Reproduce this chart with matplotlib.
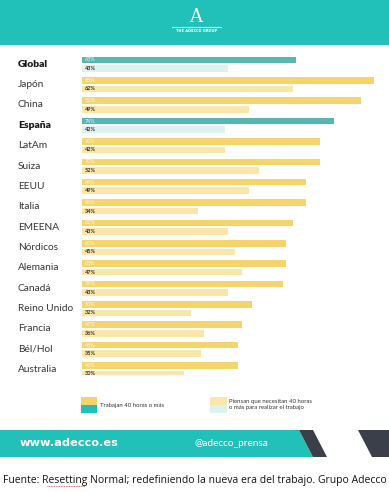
import matplotlib
matplotlib.use("Agg")
import matplotlib.pyplot as plt
from matplotlib.patches import Polygon, Rectangle

countries = ["Global", "Japón", "China", "España", "LatAm", "Suiza", "EEUU", "Italia",
             "EMEENA", "Nórdicos", "Alemania", "Canadá", "Reino Unido", "Francia",
             "Bél/Hol", "Australia"]
trabajan = [63, 86, 82, 74, 70, 70, 66, 66, 62, 60, 60, 59, 50, 47, 46, 46]
piensan = [43, 62, 49, 42, 42, 52, 49, 34, 43, 45, 47, 43, 32, 36, 35, 30]
highlight = ["Global", "España"]
legend_labels = ["Trabajan 40 horas o más", "Piensan que necesitan 40 horas\no más para realizar el trabajo"]

TEAL = "#21c1ba"
TEAL_BAR = "#55b8b0"
TEAL_LIGHT = "#ddf1ef"
YEL = "#f6d46c"
YEL_LIGHT = "#fbe6a9"
DARK = "#3a3f4a"

W, H = 389, 492
fig = plt.figure(figsize=(W / 100, H / 100), dpi=100)
fig.patch.set_facecolor("white")

# overlay axes in pixel coordinates for decorations
deco = fig.add_axes([0, 0, 1, 1])
deco.set_xlim(0, W)
deco.set_ylim(H, 0)
deco.axis("off")

# header
deco.add_patch(Rectangle((0, 0), W, 45, color=TEAL, lw=0))
deco.text(196, 17, "A", color="white", fontsize=13, ha="center", va="center",
          family="DejaVu Serif")
deco.plot([172, 221], [26.5, 26.5], color="white", lw=0.8)
deco.text(196.5, 31, "THE ADECCO GROUP", color="white", fontsize=2.6, ha="center",
          va="center", fontweight="bold")

# footer band
deco.add_patch(Polygon([(0, 430), (299, 430), (313, 457), (0, 457)], closed=True, color=TEAL, lw=0))
deco.add_patch(Polygon([(299, 430), (313, 430), (327, 457), (313, 457)], closed=True, color=DARK, lw=0))
deco.add_patch(Polygon([(358, 430), (389, 430), (389, 457), (372, 457)], closed=True, color=DARK, lw=0))
deco.text(20, 443.5, "www.adecco.es", color="white", fontsize=8.2, fontweight="bold",
          ha="left", va="center", family="DejaVu Sans")
deco.text(195, 443.5, "@adecco_prensa", color="white", fontsize=7.2, ha="left",
          va="center", family="Lato")

# legend
deco.add_patch(Rectangle((81, 397), 16, 8, color=YEL, lw=0))
deco.add_patch(Rectangle((81, 405), 16, 8, color=TEAL, lw=0))
deco.text(100, 405, legend_labels[0], fontsize=4.3, ha="left", va="center", color="#333333",
          family="Lato")
deco.add_patch(Rectangle((210, 397), 17, 8, color=YEL_LIGHT, lw=0))
deco.add_patch(Rectangle((210, 405), 17, 8, color=TEAL_LIGHT, lw=0))
deco.text(229, 404.5, legend_labels[1], fontsize=4.3, ha="left", va="center", color="#333333",
          family="Lato", linespacing=1.1)

# caption
deco.text(3, 480, "Fuente: Resetting Normal; redefiniendo la nueva era del trabajo. Grupo Adecco",
          fontsize=7.5, ha="left", va="center", color="#111111", family="Open Sans")
deco.plot([47, 85], [486, 486], color="#d03030", lw=0.6, ls=(0, (1, 1)))

# main bar axes
top_px, bot_px = 50, 375
ax = fig.add_axes([82 / W, 1 - bot_px / H, 306 / W, (bot_px - top_px) / H])
ax.set_xlim(0, 90)
ax.set_ylim(15.26, -0.70)
ax.axis("off")

off = 0.21
bh = 0.32
for i, (c, t, p) in enumerate(zip(countries, trabajan, piensan)):
    hl = c in highlight
    ax.barh(i - off, t, height=bh, color=TEAL_BAR if hl else YEL, lw=0)
    ax.barh(i + off, p, height=bh, color=TEAL_LIGHT if hl else YEL_LIGHT, lw=0)
    ax.text(0.8, i - off, f"{t}%", color="white", fontsize=4.0, va="center", ha="left",
            family="Lato", alpha=0.85)
    ax.text(0.8, i + off, f"{p}%", color="#3a3320", fontsize=4.0, va="center", ha="left",
            family="Lato", fontweight="bold")
    ax.text(-64 / 3.4, i, c, fontsize=7.5 if hl else 7.3, va="center", ha="left",
            color="#1a1a1a" if hl else "#333333",
            family="Lato", fontweight="heavy" if hl else "normal")

fig.savefig("out.png", dpi=100, facecolor="white")
